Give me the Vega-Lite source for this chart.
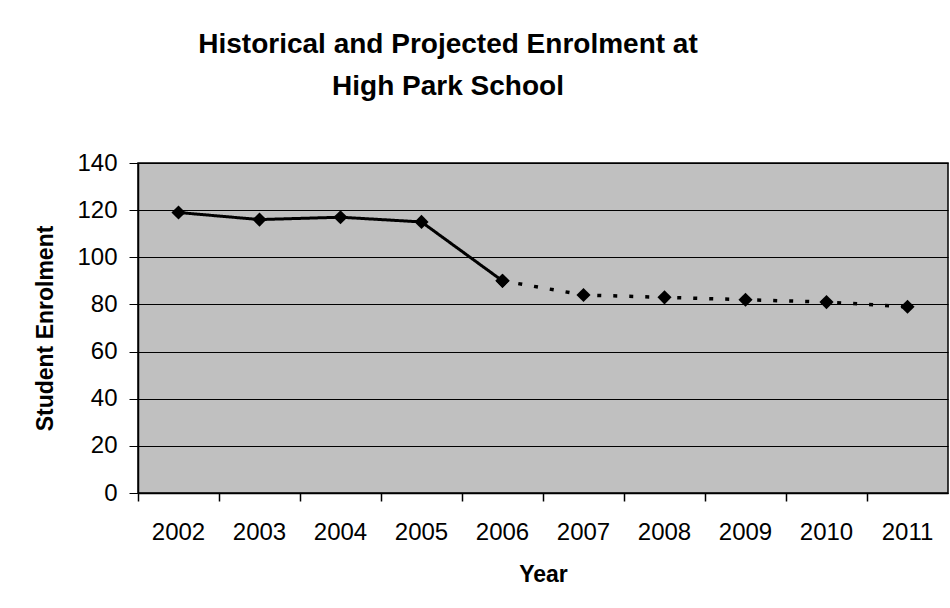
{
  "$schema": "https://vega.github.io/schema/vega-lite/v6.json",
  "autosize": "none",
  "width": 810,
  "height": 330,
  "padding": {"left": 138, "top": 163, "right": 2, "bottom": 115},
  "background": "white",
  "title": {
    "text": ["Historical and Projected Enrolment at", "High Park School"],
    "font": "Liberation Sans",
    "fontSize": 28,
    "fontWeight": "bold",
    "color": "black",
    "lineHeight": 42,
    "anchor": "middle",
    "dx": -95,
    "offset": 50
  },
  "config": {
    "view": {"fill": "#c0c0c0", "stroke": "black", "strokeWidth": 1.5},
    "axis": {
      "labelFont": "Liberation Sans",
      "labelFontSize": 24,
      "labelColor": "black",
      "titleFont": "Liberation Sans",
      "titleFontSize": 23,
      "titleFontWeight": "bold",
      "titleColor": "black",
      "domainColor": "black",
      "tickColor": "black",
      "gridColor": "black",
      "gridOpacity": 1
    }
  },
  "data": {
    "values": [
      {"year": "2002", "enrolment": 119, "series": "Historical"},
      {"year": "2003", "enrolment": 116, "series": "Historical"},
      {"year": "2004", "enrolment": 117, "series": "Historical"},
      {"year": "2005", "enrolment": 115, "series": "Historical"},
      {"year": "2006", "enrolment": 90, "series": "Historical"},
      {"year": "2006", "enrolment": 90, "series": "Projected"},
      {"year": "2007", "enrolment": 84, "series": "Projected"},
      {"year": "2008", "enrolment": 83, "series": "Projected"},
      {"year": "2009", "enrolment": 82, "series": "Projected"},
      {"year": "2010", "enrolment": 81, "series": "Projected"},
      {"year": "2011", "enrolment": 79, "series": "Projected"}
    ]
  },
  "encoding": {
    "x": {
      "field": "year",
      "type": "ordinal",
      "scale": {"type": "band", "paddingInner": 0, "paddingOuter": 0},
      "axis": {
        "title": "Year",
        "labelAngle": 0,
        "bandPosition": 0,
        "tickSize": 8,
        "tickWidth": 1.5,
        "domainWidth": 1.5,
        "labelPadding": 19,
        "titlePadding": 19,
        "grid": false
      }
    },
    "y": {
      "field": "enrolment",
      "type": "quantitative",
      "scale": {"domain": [0, 140]},
      "axis": {
        "title": "Student Enrolment",
        "values": [0, 20, 40, 60, 80, 100, 120, 140],
        "tickSize": 9,
        "tickWidth": 1,
        "domainWidth": 1.5,
        "gridWidth": 1,
        "labelPadding": 12,
        "titlePadding": 19
      }
    }
  },
  "layer": [
    {
      "mark": {"type": "line", "color": "black"},
      "encoding": {
        "detail": {"field": "series"},
        "strokeDash": {
          "field": "series",
          "type": "nominal",
          "scale": {"domain": ["Historical", "Projected"], "range": [[1, 0], [4, 12]]},
          "legend": null
        },
        "strokeWidth": {
          "field": "series",
          "type": "nominal",
          "scale": {"domain": ["Historical", "Projected"], "range": [3, 3.5]},
          "legend": null
        }
      }
    },
    {
      "mark": {"type": "point", "shape": "diamond", "filled": true, "color": "black", "opacity": 1, "size": 200}
    }
  ]
}
